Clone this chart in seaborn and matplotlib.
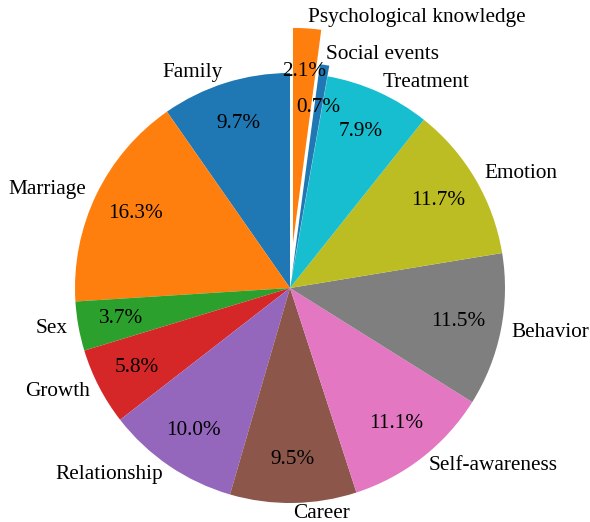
import matplotlib
matplotlib.use("Agg")
import matplotlib.pyplot as plt
import seaborn as sns

labels = ['Family', 'Marriage', 'Sex', 'Growth', 'Relationship', 'Career',
          'Self-awareness', 'Behavior', 'Emotion', 'Treatment',
          'Social events', 'Psychological knowledge']
shares = [9.7, 16.3, 3.7, 5.8, 10.0, 9.5, 11.1, 11.5, 11.7, 7.9, 0.7, 2.1]
explode = [0, 0, 0, 0, 0, 0, 0, 0, 0, 0, 0.05, 0.21]

sns.set_style('white')
plt.rcParams['font.family'] = ['Liberation Serif', 'DejaVu Serif']
plt.rcParams['text.color'] = 'black'

colors = sns.color_palette('tab10', 10)
colors = colors + colors[:2]

fig = plt.figure(figsize=(5.9, 5.22), dpi=100)
ax = fig.add_axes([0, 0, 1, 1])
ax.pie(shares, labels=labels, colors=colors, explode=explode,
       autopct='%1.1f%%', startangle=90, pctdistance=0.8,
       labeldistance=1.05, textprops={'fontsize': 15.3, 'color': 'black'},
       wedgeprops={'linewidth': 0})
ax.set_xlim(-290 / 215, 300 / 215)
ax.set_ylim(-234 / 215, 288 / 215)
ax.set_aspect('auto')
ax.axis('off')

fig.savefig('out.png', dpi=100)
